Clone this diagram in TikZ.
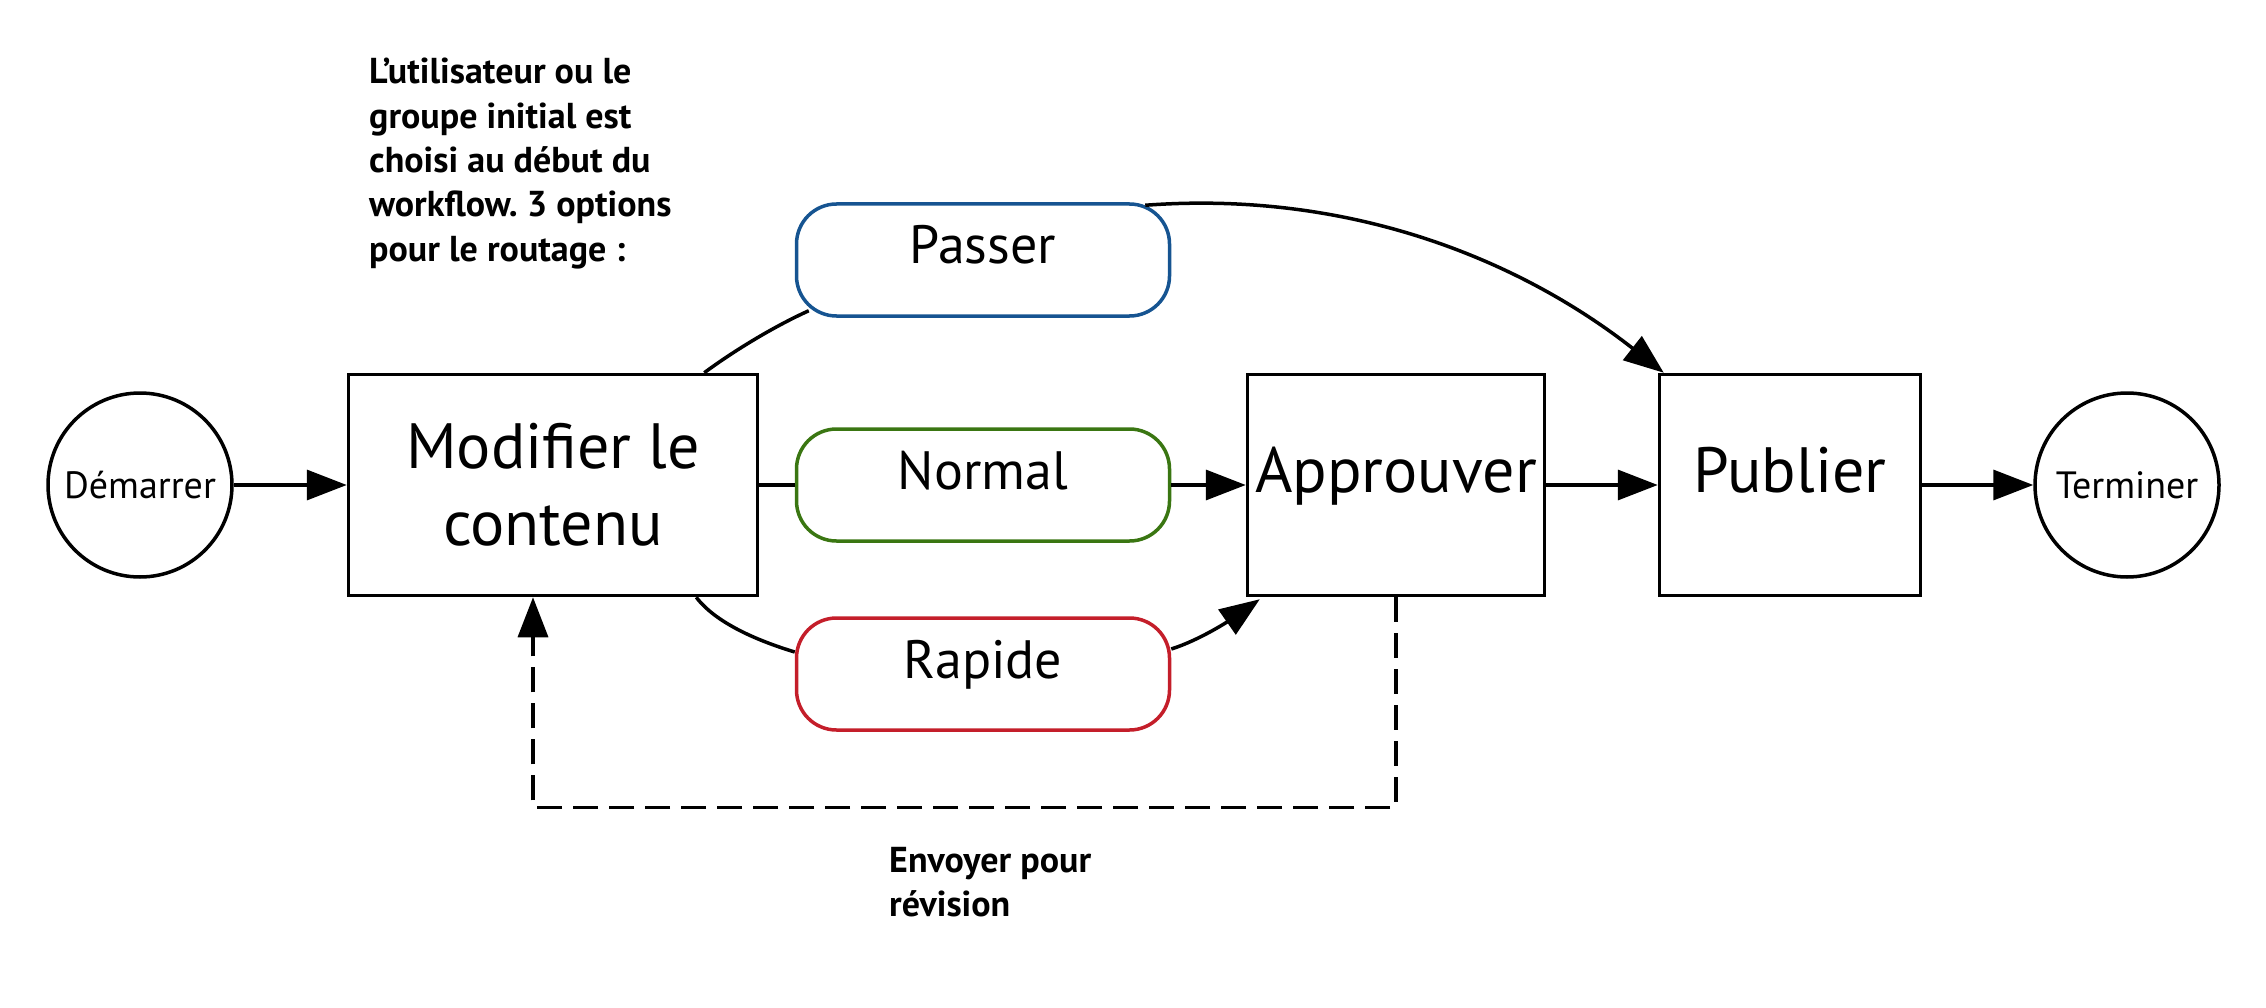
\documentclass[tikz,border=0pt]{standalone}
\usepackage{fontspec}
\setmainfont{PT Sans}
\usetikzlibrary{arrows.meta,calc}
\definecolor{cblue}{RGB}{22,84,145}
\definecolor{cgreen}{RGB}{58,118,18}
\definecolor{cred}{RGB}{196,30,42}
\frenchspacing
\begin{document}
\begin{tikzpicture}[x=1pt,y=-1pt,
  every node/.style={inner sep=0pt},
  conn/.style={line width=3.5pt},
  arr/.style={conn,-{Triangle[length=40pt,width=30pt]}},
  terminal/.style={circle,draw,line width=3.5pt,minimum size=184pt,font=\fontsize{38}{42}\selectfont},
  task/.style={rectangle,draw,line width=3.5pt,minimum height=221pt,font=\fontsize{64}{77}\selectfont,align=center},
  route/.style={rectangle,rounded corners=40pt,draw,line width=3.5pt,minimum width=373pt,minimum height=112pt,font=\fontsize{54}{60}\selectfont,text height=38pt,text depth=30pt},
  note/.style={font=\bfseries\fontsize{36}{44.4}\selectfont,align=left,anchor=north west}
]
\useasboundingbox (0,0) rectangle (2266,1008);

\node[terminal] (dem) at (140,485) {Démarrer};
\node[task,minimum width=409pt] (mod) at (553,485) {Modifier le\\contenu};
\node[route,draw=cblue] (pas) at (983,260) {Passer};
\node[route,draw=cgreen] (nor) at (983,485) {Normal};
\node[route,draw=cred] (rap) at (983,674) {Rapide};
\node[task,minimum width=297pt,text height=45pt,text depth=30pt] (app) at (1396,485) {Approuver};
\node[task,minimum width=261pt,text height=45pt,text depth=30pt] (pub) at (1790,485) {Publier};
\node[terminal] (ter) at (2127,485) {Terminer};

\node[note] (n1) at (369,58) {L’utilisateur ou le\\groupe initial est\\choisi au début du\\workflow. 3 options\\pour le routage :};
\node[note] (n2) at (889,847) {Envoyer pour\\révision};

\draw[arr] (dem) -- (mod);
\draw[conn] ($(mod.north east)+(-55,0)$) .. controls (735,350) and (775,326) .. ($(pas.south west)+(14,-7)$);
\draw[arr] ($(pas.north east)+(-26,3)$) .. controls (1350,190) and (1520,260) .. ($(pub.north west)+(6,0)$);
\draw[conn] (mod.east) -- (nor.west);
\draw[arr] (nor.east) -- (app.west);
\draw[conn] ($(mod.south east)+(-63,0)$) .. controls (715,622) and (755,640) .. ($(rap.west)+(0,-22)$);
\draw[arr] ($(rap.east)+(0,-25)$) .. controls (1200,640) and (1230,620) .. ($(app.south west)+(14,2)$);
\draw[arr] (app.east) -- (pub.west);
\draw[arr] (pub.east) -- (ter.west);
\draw[arr,dash pattern=on 25pt off 11pt] (app.south) -- ++(0,210) -| ($(mod.south)+(-20,0)$);
\end{tikzpicture}
\end{document}
